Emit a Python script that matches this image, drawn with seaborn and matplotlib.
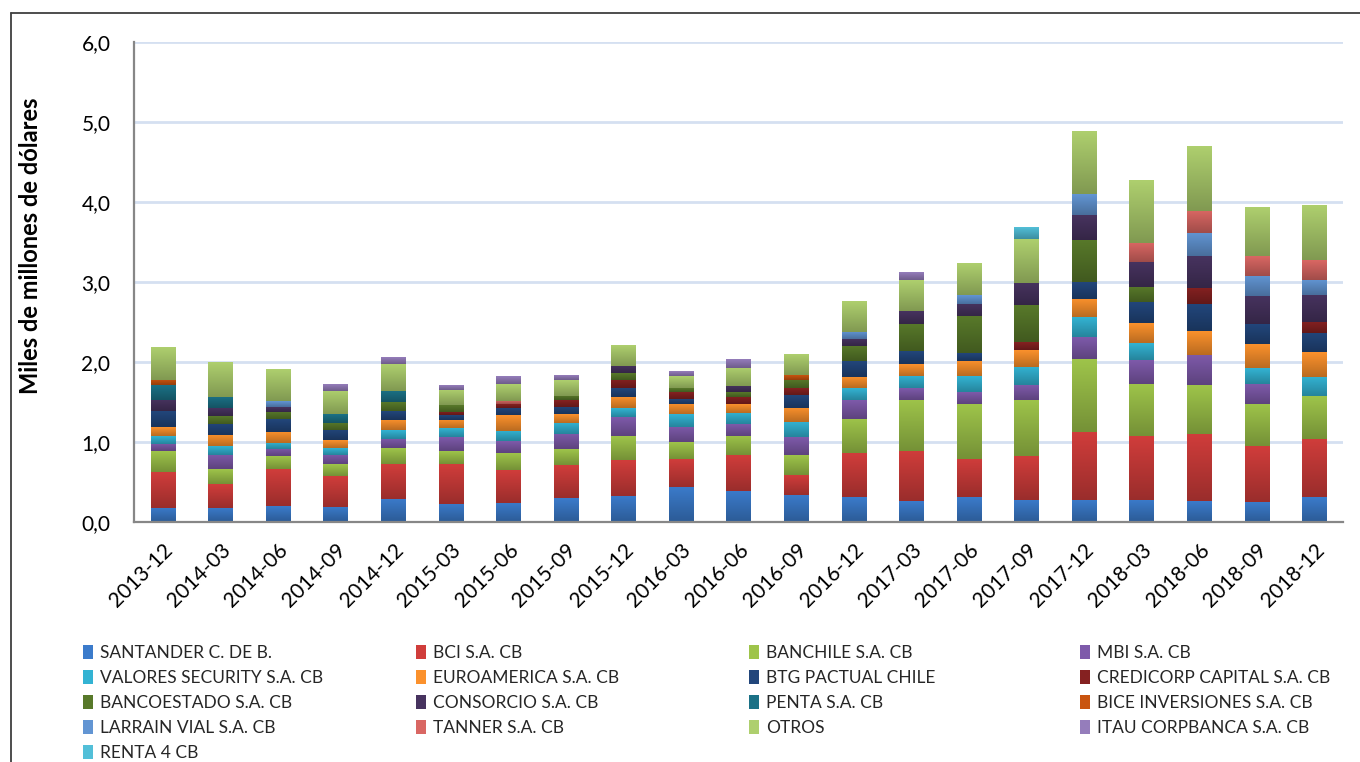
import numpy as np
import matplotlib
matplotlib.use("Agg")
import matplotlib.pyplot as plt
import matplotlib.patches as mpatches
from matplotlib.lines import Line2D
from matplotlib.colors import to_rgb
import seaborn as sns

cats = ['2013-12', '2014-03', '2014-06', '2014-09', '2014-12', '2015-03', '2015-06',
        '2015-09', '2015-12', '2016-03', '2016-06', '2016-09', '2016-12', '2017-03',
        '2017-06', '2017-09', '2017-12', '2018-03', '2018-06', '2018-09', '2018-12']

santander = [0.18, 0.18, 0.20, 0.19, 0.29, 0.23, 0.24, 0.30, 0.33, 0.44, 0.39, 0.34, 0.31, 0.26, 0.31, 0.28, 0.28, 0.28, 0.26, 0.25, 0.31]
bci = [0.45, 0.30, 0.46, 0.38, 0.43, 0.50, 0.41, 0.41, 0.45, 0.35, 0.45, 0.25, 0.55, 0.63, 0.48, 0.54, 0.85, 0.79, 0.84, 0.70, 0.73]
banchile = [0.26, 0.18, 0.16, 0.15, 0.20, 0.16, 0.21, 0.20, 0.30, 0.21, 0.24, 0.25, 0.43, 0.64, 0.68, 0.71, 0.91, 0.66, 0.61, 0.53, 0.53]
mbi = [0.09, 0.18, 0.09, 0.12, 0.12, 0.17, 0.15, 0.19, 0.23, 0.19, 0.14, 0.22, 0.23, 0.14, 0.15, 0.18, 0.27, 0.30, 0.38, 0.25, 0.00]
valores = [0.10, 0.11, 0.08, 0.08, 0.11, 0.11, 0.13, 0.14, 0.11, 0.16, 0.14, 0.19, 0.15, 0.16, 0.20, 0.23, 0.25, 0.21, 0.00, 0.20, 0.24]
euroamerica = [0.11, 0.14, 0.14, 0.10, 0.13, 0.11, 0.20, 0.11, 0.14, 0.13, 0.11, 0.18, 0.14, 0.15, 0.19, 0.21, 0.23, 0.25, 0.30, 0.29, 0.31]
btg = [0.20, 0.14, 0.16, 0.13, 0.11, 0.06, 0.08, 0.09, 0.11, 0.06, 0.00, 0.16, 0.20, 0.16, 0.10, 0.00, 0.21, 0.26, 0.33, 0.25, 0.24]
credicorp = [0, 0, 0, 0, 0, 0.04, 0.05, 0.08, 0.11, 0.08, 0.09, 0.08, 0, 0, 0, 0.10, 0, 0, 0.21, 0, 0.14]
bancoestado = [0, 0.10, 0.09, 0.09, 0.11, 0.08, 0, 0.06, 0.08, 0.05, 0.06, 0.11, 0.19, 0.34, 0.46, 0.46, 0.53, 0.19, 0, 0, 0]
consorcio = [0.14, 0.09, 0.06, 0, 0, 0, 0, 0, 0.09, 0, 0.08, 0, 0.09, 0.16, 0.16, 0.28, 0.31, 0.31, 0.39, 0.35, 0.34]
penta = [0.18, 0.14, 0, 0.11, 0.14, 0, 0, 0, 0, 0, 0, 0, 0, 0, 0, 0, 0, 0, 0, 0, 0]
bice = [0.07, 0, 0, 0, 0, 0, 0, 0, 0, 0, 0, 0.06, 0, 0, 0, 0, 0, 0, 0, 0, 0]
larrain = [0, 0, 0.07, 0, 0, 0, 0, 0, 0, 0, 0, 0, 0.09, 0, 0.11, 0, 0.26, 0, 0.29, 0.26, 0.19]
tanner = [0, 0, 0, 0, 0, 0, 0.04, 0, 0, 0, 0, 0, 0, 0, 0, 0, 0, 0.24, 0.28, 0.24, 0.25]
otros = [0.41, 0.43, 0.39, 0.29, 0.33, 0.19, 0.21, 0.20, 0.26, 0.15, 0.23, 0.26, 0.38, 0.38, 0.40, 0.55, 0.78, 0.78, 0.81, 0.61, 0.68]
itau = [0, 0, 0, 0.08, 0.08, 0.06, 0.09, 0.06, 0, 0.06, 0.10, 0, 0, 0.09, 0, 0, 0, 0, 0, 0, 0]
renta4 = [0, 0, 0, 0, 0, 0, 0, 0, 0, 0, 0, 0, 0, 0, 0, 0.14, 0, 0, 0, 0, 0]

series_names = ['SANTANDER C. DE B.', 'BCI S.A. CB', 'BANCHILE S.A. CB', 'MBI S.A. CB',
                'VALORES SECURITY S.A. CB', 'EUROAMERICA S.A. CB', 'BTG PACTUAL CHILE',
                'CREDICORP CAPITAL S.A. CB', 'BANCOESTADO S.A. CB', 'CONSORCIO S.A. CB',
                'PENTA S.A. CB', 'BICE INVERSIONES S.A. CB', 'LARRAIN VIAL S.A. CB',
                'TANNER S.A. CB', 'OTROS', 'ITAU CORPBANCA S.A. CB', 'RENTA 4 CB']
series_values = [santander, bci, banchile, mbi, valores, euroamerica, btg, credicorp,
                 bancoestado, consorcio, penta, bice, larrain, tanner, otros, itau, renta4]
colors = ['#3B7BCB', '#D03D3B', '#9EC44A', '#7E5AAA', '#33B3D3', '#FB912C', '#22467B',
          '#852121', '#58792A', '#47335F', '#1B7186', '#C9540F', '#6295D3', '#D96763',
          '#AECF6E', '#957DBB', '#52BFD8']

sns.set_theme(style="white")
plt.rcParams['font.family'] = ['Lato', 'DejaVu Sans']

fig = plt.figure(figsize=(13.6, 7.62), dpi=100)
W, H = 1360, 762
ax = fig.add_axes([134 / W, 1 - 522 / H, (1343 - 134) / W, (522 - 42) / H])

bottom = np.zeros(len(cats))
for name, vals, col in zip(series_names, series_values, colors):
    vals = np.asarray(vals, dtype=float)
    sns.barplot(x=cats, y=vals, bottom=bottom, color=col, saturation=1, width=0.417,
                errorbar=None, ax=ax, label=name, linewidth=0, legend=False)
    bottom = bottom + vals

# vertical gradient shading on each bar segment (lighter top, darker bottom)
for cont, col in zip(ax.containers, colors):
    for p in cont.patches:
        h = p.get_height()
        if h <= 0:
            continue
        x0, y0, w = p.get_x(), p.get_y(), p.get_width()
        top = np.array(to_rgb(col))
        bot = top * 0.74
        t = np.linspace(0, 1, 64)[:, None]
        grad = (bot[None, :] * (1 - t) + top[None, :] * t)[:, None, :]
        ax.imshow(grad, extent=[x0, x0 + w, y0, y0 + h], origin='lower',
                  aspect='auto', interpolation='bilinear', zorder=p.get_zorder() + 0.1)

ax.set_xlim(-0.5, len(cats) - 0.5)
ax.set_ylim(0, 6)
ax.set_yticks(np.arange(0, 6.01, 1.0))
ax.set_yticklabels([f"{v:.1f}".replace('.', ',') for v in np.arange(0, 6.01, 1.0)])
ax.yaxis.grid(True, color='#D5E0F1', linewidth=2)
ax.set_axisbelow(True)
for s in ['top', 'right']:
    ax.spines[s].set_visible(False)
for s in ['left', 'bottom']:
    ax.spines[s].set_color('#878787')
    ax.spines[s].set_linewidth(1.6)
    ax.spines[s].set_zorder(5)
ax.tick_params(axis='y', length=0, pad=17, labelsize=15, labelcolor='black')
ax.tick_params(axis='x', length=0, pad=13, labelsize=15, labelcolor='black')
plt.setp(ax.get_xticklabels(), rotation=45, ha='right', rotation_mode='anchor')
ax.set_xlabel('')
ax.set_ylabel('Miles de millones de dólares', fontsize=17, fontweight='bold',
              color='black')
ax.yaxis.set_label_coords((42 - 134) / 1209, (522 - 246) / 480)

# legend: four columns, row-major order as in the reference
handles = [mpatches.Patch(facecolor=c, edgecolor='none') for c in colors]
col_x = [83, 416, 749, 1080]
top_y = 1 - 645 / H
for j in range(4):
    idx = list(range(j, len(series_names), 4))
    fig.legend([handles[i] for i in idx], [series_names[i] for i in idx],
               loc='upper left', bbox_to_anchor=(col_x[j] / W, top_y),
               frameon=False, fontsize=12.5, handlelength=0.55, handleheight=0.85,
               handletextpad=0.45, labelspacing=0.52, borderpad=0, borderaxespad=0)

# outer chart frame
fig.add_artist(Line2D([11 / W, 11 / W], [1 - 13 / H, 0], transform=fig.transFigure,
                      color='#3F3F3F', linewidth=1.3))
fig.add_artist(Line2D([11 / W, 1], [1 - 13 / H, 1 - 13 / H], transform=fig.transFigure,
                      color='#3F3F3F', linewidth=1.3))

fig.savefig('out.png', dpi=100)
